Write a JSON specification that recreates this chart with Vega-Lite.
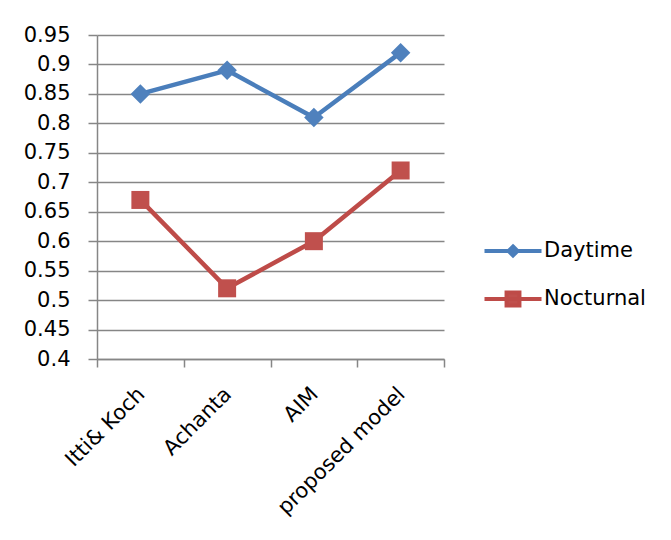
{
  "$schema": "https://vega.github.io/schema/vega-lite/v6.json",
  "width": 347,
  "height": 324,
  "autosize": {"type": "none"},
  "padding": {"left": 97, "top": 35, "right": 227, "bottom": 181},
  "background": "white",
  "config": {
    "view": {"stroke": null},
    "font": "DejaVu Sans",
    "axis": {
      "labelFont": "DejaVu Sans",
      "labelColor": "#000000",
      "domainColor": "#868686",
      "domainWidth": 1.5,
      "tickColor": "#868686",
      "tickWidth": 1.5,
      "gridColor": "#868686",
      "gridWidth": 1.5,
      "title": null
    },
    "legend": {
      "labelFont": "DejaVu Sans",
      "labelFontSize": 21,
      "labelColor": "#000000"
    }
  },
  "data": {
    "values": [
      {"model": "Itti& Koch", "series": "Daytime", "score": 0.85},
      {"model": "Achanta", "series": "Daytime", "score": 0.89},
      {"model": "AIM", "series": "Daytime", "score": 0.81},
      {"model": "proposed model", "series": "Daytime", "score": 0.92},
      {"model": "Itti& Koch", "series": "Nocturnal", "score": 0.67},
      {"model": "Achanta", "series": "Nocturnal", "score": 0.52},
      {"model": "AIM", "series": "Nocturnal", "score": 0.6},
      {"model": "proposed model", "series": "Nocturnal", "score": 0.72}
    ]
  },
  "encoding": {
    "x": {
      "field": "model",
      "type": "nominal",
      "sort": ["Itti& Koch", "Achanta", "AIM", "proposed model"],
      "scale": {"type": "band", "paddingInner": 0, "paddingOuter": 0},
      "axis": {
        "labelAngle": -45,
        "labelAlign": "right",
        "labelBaseline": "top",
        "labelFontSize": 21,
        "labelOffset": -7,
        "tickBand": "extent",
        "tickSize": 8,
        "labelPadding": 16,
        "grid": false
      }
    },
    "y": {
      "field": "score",
      "type": "quantitative",
      "scale": {"domain": [0.4, 0.95], "nice": false, "zero": false},
      "axis": {
        "values": [0.4, 0.45, 0.5, 0.55, 0.6, 0.65, 0.7, 0.75, 0.8, 0.85, 0.9, 0.95],
        "format": ".2~f",
        "labelFontSize": 21,
        "grid": true,
        "tickSize": 9,
        "labelPadding": 18
      }
    },
    "color": {
      "field": "series",
      "type": "nominal",
      "scale": {"domain": ["Daytime", "Nocturnal"], "range": ["#4A7EBB", "#BE4B48"]},
      "legend": {
        "title": null,
        "orient": "none",
        "legendX": 399,
        "legendY": 199,
        "padding": 0,
        "symbolSize": 900,
        "rowPadding": 18,
        "labelOffset": 14,
        "encode": {
          "symbols": {
            "update": {
              "shape": {"signal": "datum.value === 'Daytime' ? 'M-1.9,0H1.9M0,-0.3L0.3,0L0,0.3L-0.3,0Z' : 'M-1.9,0H1.9M-0.43,-0.43H0.43V0.43H-0.43Z'"},
              "fill": {"signal": "datum.value === 'Daytime' ? '#4F81BD' : '#C0504D'"},
              "stroke": {"signal": "datum.value === 'Daytime' ? '#4A7EBB' : '#BE4B48'"},
              "strokeWidth": {"value": 4},
              "opacity": {"value": 1},
              "fillOpacity": {"value": 1}
            }
          }
        }
      }
    }
  },
  "layer": [
    {
      "mark": {"type": "line", "strokeWidth": 4.5, "strokeJoin": "round"}
    },
    {
      "mark": {"type": "point", "filled": true, "opacity": 1},
      "encoding": {
        "shape": {
          "condition": {"test": "datum.series === 'Daytime'", "value": "diamond"},
          "value": "square"
        },
        "size": {
          "condition": {"test": "datum.series === 'Daytime'", "value": 380},
          "value": 324
        },
        "fill": {
          "condition": {"test": "datum.series === 'Daytime'", "value": "#4F81BD"},
          "value": "#C0504D"
        }
      }
    }
  ]
}
